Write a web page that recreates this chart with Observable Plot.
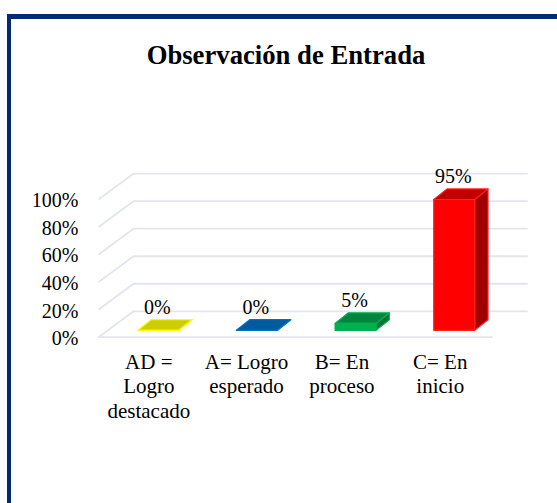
<!DOCTYPE html>
<html>
<head>
<meta charset="utf-8">
<script src="https://cdn.jsdelivr.net/npm/d3@7"></script>
<script src="https://cdn.jsdelivr.net/npm/@observablehq/plot@0.6"></script>
<style>
  html, body { margin: 0; padding: 0; background: #fff; }
  #page { position: relative; width: 557px; height: 503px; overflow: hidden; font-family: "Liberation Serif", serif; }
  #edge-top { position: absolute; left: 7px; top: 14px; right: 0; height: 4.5px; background: #002b72; }
  #edge-left { position: absolute; left: 7px; top: 14px; bottom: 0; width: 4px; background: #002b72; }
  #title { position: absolute; left: 0; width: 572px; top: 40px; text-align: center; font-weight: bold; font-size: 26.7px; color: #000; }
  #chart { position: absolute; left: 0; top: 0; }
  #chart svg { display: block; background: transparent; }
</style>
</head>
<body>
<div id="page">
  <div id="chart"></div>
  <div id="edge-top"></div>
  <div id="edge-left"></div>
  <div id="title">Observación de Entrada</div>
</div>
<script>
const categories = ["AD =\nLogro\ndestacado", "A= Logro\nesperado", "B= En\nproceso", "C= En\ninicio"];
const values = [0, 0, 5, 95];
const valueLabels = ["0%", "0%", "5%", "95%"];
const yTicks = [0, 20, 40, 60, 80, 100];

const frontColors = ["#cccc00", "#0563a8", "#00b050", "#ff0000"];
const topColors   = ["#cccc00", "#005a9e", "#00863c", "#c00000"];
const sideColors  = ["#b0b000", "#004f8c", "#006f32", "#a00000"];
const edgeColors  = ["#ffff00", "#0070c0", "#00b050", "#ff2020"];

// Oblique projection, expressed in the scale units of x (categories) and y (percent)
const wall = {x: 0.355, y: 18.8};
const barFront = {x: 0.105, y: 5};
const barBack = {x: 0.24, y: 12.7};
const barWidth = 0.415;
const labelNudge = [0.01, 0, -0.033, -0.037];

const gridInk = "#e2e5ec";
const faces = categories.flatMap((c, i) => {
  const l = i + 0.5 - barWidth / 2 + barFront.x, r = l + barWidth;
  const b = barFront.y, t = b + values[i];
  const dx = barBack.x - barFront.x, dy = barBack.y - barFront.y;
  const poly = (key, fill, pts) => [...pts, pts[0]].map(([x, y]) => ({key: key + i, fill, stroke: edgeColors[i], x, y}));
  return [
    ...poly("side", sideColors[i], [[r, b], [r + dx, b + dy], [r + dx, t + dy], [r, t]]),
    ...poly("top", topColors[i], [[l, t], [r, t], [r + dx, t + dy], [l + dx, t + dy]]),
    ...poly("front", frontColors[i], [[l, b], [r, b], [r, t], [l, t]])
  ];
});

const n = categories.length;
const chart = Plot.plot({
  width: 557,
  height: 503,
  marginLeft: 98,
  marginRight: 64.3,
  marginTop: 199,
  marginBottom: 166.3,
  style: {fontFamily: "'Liberation Serif', serif", fontSize: "20px", color: "#000", overflow: "visible"},
  x: {type: "linear", domain: [0, n], axis: null},
  y: {domain: [0, 100], axis: null},
  color: {type: "identity"},
  marks: [
    Plot.ruleY(yTicks, {y: d => d + wall.y, x1: wall.x, x2: n + wall.x, stroke: gridInk, strokeWidth: 1.8, strokeOpacity: 1}),
    Plot.link(yTicks, {x1: 0, y1: d => d, x2: wall.x, y2: d => d + wall.y, stroke: gridInk, strokeWidth: 1.8}),
    Plot.ruleY([0], {x1: 0, x2: n, stroke: gridInk, strokeWidth: 1.8}),
    Plot.line(faces, {x: "x", y: "y", z: "key", fill: "fill", stroke: "stroke", strokeWidth: 1.2, curve: "linear"}),
    Plot.axisY(yTicks, {anchor: "left", tickSize: 0, tickPadding: 20, tickFormat: d => d + "%", fontSize: 20, dy: 1.5, fill: "#000", label: null}),
    Plot.text(categories, {x: (d, i) => i + 0.5 + labelNudge[i], y: 0, text: d => d, lineAnchor: "top", dy: 14, lineHeight: 1.17, fontSize: 21, fill: "#000"}),
    Plot.text(valueLabels, {x: (d, i) => i + 0.5 + barFront.x - 0.01, y: (d, i) => values[i] + barBack.y, text: d => d, lineAnchor: "bottom", dy: -6, fontSize: 20, fill: "#000"})
  ]
});
document.getElementById("chart").append(chart);
</script>
</body>
</html>
